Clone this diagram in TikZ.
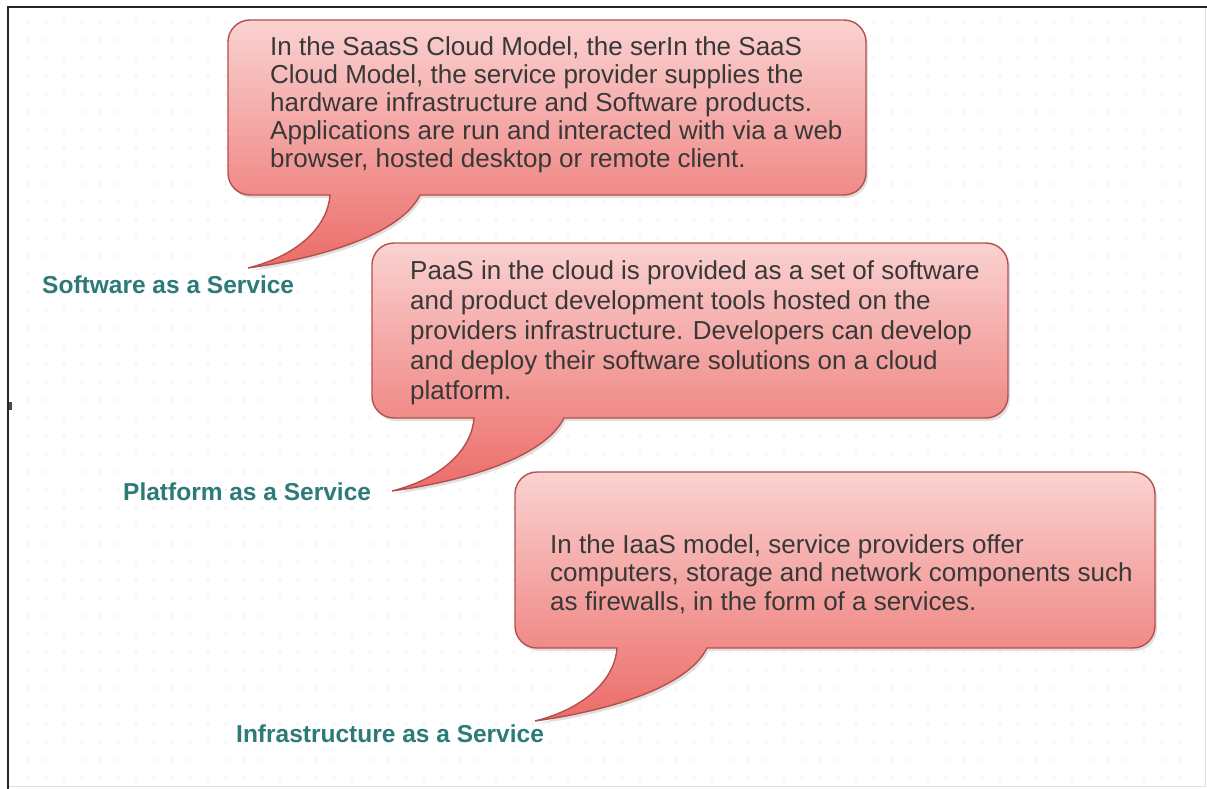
\documentclass[tikz,border=0pt]{standalone}
\usepackage{fontspec}
\setmainfont{Liberation Sans}
\definecolor{bubbletop}{HTML}{FAD2D1}
\definecolor{bubblebot}{HTML}{EC6C68}
\definecolor{bubbleedge}{HTML}{B4504C}
\definecolor{labelteal}{HTML}{2C7B78}
\definecolor{bodytext}{HTML}{383838}
\definecolor{dotgray}{HTML}{EDEDED}
\newcommand\speechbubble[5]{% style, L, T, R, B (pixel coordinates, y downward)
  \path[#1] ({#2+22},{-#3}) -- ({#4-22},{-#3})
    arc[start angle=90,end angle=0,radius=22pt] -- ({#4},{-#5+22})
    arc[start angle=0,end angle=-90,radius=22pt] -- ({#2+192},{-#5})
    .. controls ({#2+172},{-#5-40}) and ({#2+92},{-#5-63}) .. ({#2+20},{-#5-73})
    .. controls ({#2+72},{-#5-60}) and ({#2+100},{-#5-30}) .. ({#2+102},{-#5})
    -- ({#2+22},{-#5})
    arc[start angle=270,end angle=180,radius=22pt] -- ({#2},{-#3-22})
    arc[start angle=180,end angle=90,radius=22pt] -- cycle;
}
\tikzset{
  bubblefill/.style={top color=bubbletop, bottom color=bubblebot, draw=bubbleedge, line width=1.4pt},
  bubbleshadow/.style={fill=black, opacity=0.12, shift={(2,-3)}},
  bubbletext/.style={anchor=north west, inner sep=0pt, align=left, text=bodytext},
  servicelabel/.style={anchor=base west, inner sep=0pt, text=labelteal, font=\bfseries\fontsize{24.5}{28}\selectfont}
}
\begin{document}
\begin{tikzpicture}[x=1pt,y=1pt]
\useasboundingbox (0,0) rectangle (1207,-789);
\fill[white] (0,0) rectangle (1207,-789);
% faint dotted background
\foreach \i in {0,...,64} {
  \foreach \j in {0,...,42} {
    \fill[dotgray] ({28+18*\i},{-22-18*\j}) circle (1.1);
  }
}
% frame
\draw[gray!25, line width=1pt] (8,-7) rectangle (1205,-786);
\draw[black!85, line width=2pt] (8,-789) -- (8,-7) -- (1207,-7);
\fill[black!70] (9,-402) rectangle (12,-410);
% bubbles
\speechbubble{bubbleshadow}{228}{20}{866}{195}
\speechbubble{bubblefill}{228}{20}{866}{195}
\speechbubble{bubbleshadow}{372}{243}{1008}{418}
\speechbubble{bubblefill}{372}{243}{1008}{418}
\speechbubble{bubbleshadow}{515}{472}{1155}{648}
\speechbubble{bubblefill}{515}{472}{1155}{648}
% texts
\node[bubbletext, font=\fontsize{26}{28}\selectfont] (saastext) at (270,-36)
  {In the SaasS Cloud Model, the serIn the SaaS\\
   Cloud Model, the service provider supplies the\\
   hardware infrastructure and Software products.\\
   Applications are run and interacted with via a web\\
   browser, hosted desktop or remote client.};
\node[bubbletext, font=\fontsize{26}{30}\selectfont] (paastext) at (410,-260)
  {PaaS in the cloud is provided as a set of software\\
   and product development tools hosted on the\\
   providers infrastructure. Developers can develop\\
   and deploy their software solutions on a cloud\\
   platform.};
\node[bubbletext, font=\fontsize{26}{28.5}\selectfont] (iaastext) at (550,-534)
  {In the IaaS model, service providers offer\\
   computers, storage and network components such\\
   as firewalls, in the form of a services.};
% labels
\node[servicelabel] (saas) at (42,-293) {Software as a Service};
\node[servicelabel] (paas) at (123,-500) {Platform as a Service};
\node[servicelabel] (iaas) at (236,-742) {Infrastructure as a Service};
\end{tikzpicture}
\end{document}
